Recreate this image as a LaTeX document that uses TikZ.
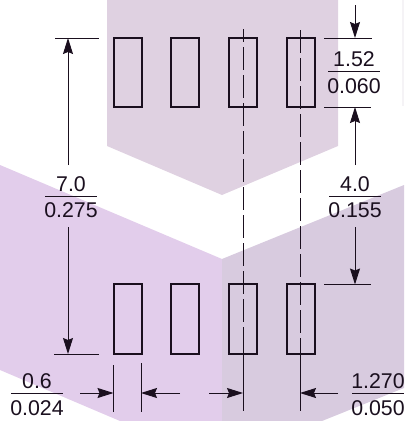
\documentclass[tikz,border=0pt]{standalone}
\usepackage{fontspec}
\setmainfont{Liberation Sans}
\usetikzlibrary{arrows.meta}
\definecolor{bgtop}{HTML}{DFD1E1}
\definecolor{bgleft}{HTML}{E2CDEB}
\definecolor{bgright}{HTML}{D8CBDF}
\definecolor{bgpale}{HTML}{F5F3F6}
\definecolor{ink}{HTML}{1A0F1E}
\tikzset{
  x=0.75pt,y=-0.75pt,
  pad/.style={draw=ink,line width=1.5pt,minimum width=21pt,minimum height=52pt,inner sep=0pt},
  dimline/.style={draw=ink,line width=0.7pt},
  extline/.style={draw=ink,line width=0.7pt},
  dimarrow/.style={dimline,-{Stealth[length=12pt,width=7.5pt,inset=1.5pt]}},
  centerline/.style={draw=ink,line width=0.7pt,dash pattern=on 17.5pt off 3.5pt},
  lab/.style={inner sep=0pt,font=\fontsize{16}{18}\selectfont,text=ink},
  fracbar/.style={draw=ink,line width=0.7pt},
}
\begin{document}
\begin{tikzpicture}
\useasboundingbox (0,0) rectangle (404,421);
\fill[bgtop] (107,0) -- (107,146) -- (222,195) -- (338,146) -- (338,0) -- cycle;
\fill[bgleft] (0,165) -- (222,259) -- (222,421) -- (120,421) -- (0,370) -- cycle;
\fill[bgright] (222,259) -- (404,185) -- (404,388) -- (322,421) -- (222,421) -- cycle;
\fill[bgpale] (402,0) rectangle (404,106);
% pads
\foreach \n/\x in {a/127.5,b/185,c/243,d/300.5}{
  \node[pad] (t\n) at (\x,72.5) {};
  \node[pad] (u\n) at (\x,319) {};
}
% centre lines
\coordinate (c1t) at (243,29);
\coordinate (c1m) at (243,347);
\coordinate (c1b) at (243,411);
\coordinate (c2t) at (300,30);
\coordinate (c2m) at (300,347);
\coordinate (c2b) at (300,411);
\draw[centerline,dash phase=7.5pt] (c1t) -- (c1m);
\draw[extline] (c1m) -- (c1b);
\draw[centerline] (c2t) -- (c2m);
\draw[extline] (c2m) -- (c2b);
% extension lines
\coordinate (e1a) at (55,38); \coordinate (e1b) at (99,38);
\coordinate (e2a) at (54,354); \coordinate (e2b) at (99,354);
\coordinate (e3a) at (324,38); \coordinate (e3b) at (372,38);
\coordinate (e4a) at (324,107); \coordinate (e4b) at (371,107);
\coordinate (e5a) at (324,284.5); \coordinate (e5b) at (371,284.5);
\draw[extline] (e1a) -- (e1b);
\draw[extline] (e2a) -- (e2b);
\draw[extline] (e3a) -- (e3b);
\draw[extline] (e4a) -- (e4b);
\draw[extline] (e5a) -- (e5b);
\coordinate (w1t) at (113.5,365); \coordinate (w1b) at (113.5,412);
\coordinate (w2t) at (141,363); \coordinate (w2b) at (141,412);
\draw[extline] (w1t) -- (w1b);
\draw[extline] (w2t) -- (w2b);
% labels
\node[lab] (n70) at (71,184) {7.0};
\node[lab] (n275) at (71,210) {0.275};
\draw[fracbar] (45,196) -- (97,196);
\node[lab] (n152) at (354,59) {1.52};
\node[lab] (n060) at (354,86) {0.060};
\draw[fracbar] (328,71) -- (380,71);
\node[lab] (n40) at (355,184) {4.0};
\node[lab] (n155) at (355,210) {0.155};
\draw[fracbar] (329,196) -- (381,196);
\node[lab] (n06) at (37,381) {0.6};
\node[lab] (n024) at (37,408) {0.024};
\draw[fracbar] (11,393) -- (63,393);
\node[lab] (n1270) at (378,381) {1.270};
\node[lab] (n050) at (378,408) {0.050};
\draw[fracbar] (352,393) -- (404,393);
% dimension arrows
\coordinate (a70t) at (68,165); \coordinate (a70b) at (68,227);
\draw[dimarrow] (a70t) -- (68,38);
\draw[dimarrow] (a70b) -- (68,354);
\coordinate (a152) at (355,5);
\draw[dimarrow] (a152) -- (355,38);
\coordinate (a40t) at (355,165); \coordinate (a40b) at (355,227);
\draw[dimarrow] (a40t) -- (355,107);
\draw[dimarrow] (a40b) -- (355,284.5);
\coordinate (h1) at (80,393); \coordinate (h2) at (180,393);
\coordinate (h3) at (209,393); \coordinate (h4) at (338,393);
\draw[dimarrow] (h1) -- (113.5,393);
\draw[dimarrow] (h2) -- (141,393);
\draw[dimarrow] (h3) -- (243,393);
\draw[dimarrow] (h4) -- (300,393);
\end{tikzpicture}
\end{document}
